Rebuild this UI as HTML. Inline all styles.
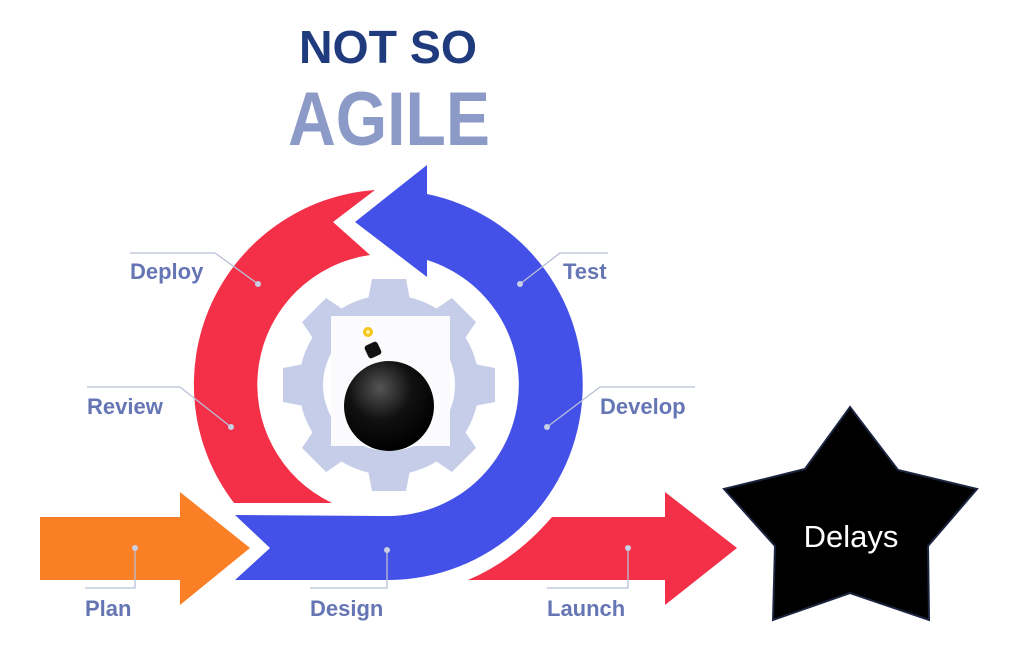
<!DOCTYPE html>
<html><head><meta charset="utf-8"><style>
html,body{margin:0;padding:0;background:#fff;}
svg{display:block;}
</style></head><body>
<svg width="1024" height="649" viewBox="0 0 1024 649" xmlns="http://www.w3.org/2000/svg" font-family="Liberation Sans, sans-serif">
<rect width="1024" height="649" fill="#fff"/>
<text x="388" y="63" text-anchor="middle" font-size="46" font-weight="bold" fill="#1f3a7d" textLength="178" lengthAdjust="spacingAndGlyphs">NOT SO</text>
<text x="389" y="145" text-anchor="middle" font-size="76" font-weight="bold" fill="#8c9ac8" textLength="202" lengthAdjust="spacingAndGlyphs">AGILE</text>

<!-- gear -->
<g fill="#c5cde8" transform="translate(389,385)">
<circle r="90"/>
<g id="t"><path d="M-22 -80 L-17 -106 L17 -106 L22 -80 Z"/></g>
<use href="#t" transform="rotate(45)"/><use href="#t" transform="rotate(90)"/><use href="#t" transform="rotate(135)"/>
<use href="#t" transform="rotate(180)"/><use href="#t" transform="rotate(225)"/><use href="#t" transform="rotate(270)"/><use href="#t" transform="rotate(315)"/>
</g>
<circle cx="389" cy="385" r="66" fill="#fff"/>
<rect x="331" y="316" width="119" height="130" fill="#fbfbfd"/>
<!-- bomb -->
<defs><radialGradient id="bg" cx="0.4" cy="0.3" r="0.7"><stop offset="0" stop-color="#555"/><stop offset="0.5" stop-color="#111"/><stop offset="1" stop-color="#000"/></radialGradient></defs>
<circle cx="389" cy="406" r="45" fill="url(#bg)"/>
<rect x="366" y="343" width="14" height="14" rx="3" fill="#111" transform="rotate(-25 373 350)"/>
<circle cx="368" cy="332" r="5" fill="#f5c518"/>
<circle cx="368" cy="332" r="2" fill="#fff3a0"/>

<!-- red arc -->
<path d="M234 503 A195 195 0 0 1 375 190 L333 222 L370 255 A131 131 0 0 0 332 503 Z" fill="#f33047"/>
<!-- blue arc -->
<path d="M235 515 L389 516 A131 131 0 0 0 427 260 L427 277 L355 222 L427 165 L427 194 A195 195 0 0 1 389 580 L235 580 L270 548 Z" fill="#4451e8"/>
<!-- orange plan arrow -->
<path d="M40 517 L180 517 L180 492 L250 548 L180 605 L180 580 L40 580 Z" fill="#fb7f25"/>
<!-- red launch arrow -->
<path d="M468 580 Q515 560 552 517 L665 517 L665 492 L737 548 L665 605 L665 580 Z" fill="#f33047"/>
<!-- star -->
<path d="M850 407 L898 470 L977 489 L928 546 L929 620 L850 593 L773 620 L775 546 L724 489 L805 469 Z" fill="#000" stroke="#1b2540" stroke-width="2"/>
<text x="851" y="547" text-anchor="middle" font-size="31" fill="#fff">Delays</text>

<!-- leaders -->
<g stroke="#b8bfd6" stroke-width="1.3" fill="none">
<path d="M130 253 L215 253 L258 284"/>
<path d="M608 253 L560 253 L520 284"/>
<path d="M87 387 L180 387 L231 427"/>
<path d="M695 387 L600 387 L547 427"/>
<path d="M135 548 L135 588 L85 588"/>
<path d="M387 550 L387 588 L310 588"/>
<path d="M628 548 L628 588 L547 588"/>
</g>
<g fill="#c8cee3">
<circle cx="258" cy="284" r="3"/><circle cx="520" cy="284" r="3"/><circle cx="231" cy="427" r="3"/><circle cx="547" cy="427" r="3"/>
<circle cx="135" cy="548" r="3"/><circle cx="387" cy="550" r="3"/><circle cx="628" cy="548" r="3"/>
</g>
<g font-size="22" font-weight="bold" fill="#6676b4">
<text x="130" y="279">Deploy</text>
<text x="563" y="279">Test</text>
<text x="87" y="414">Review</text>
<text x="600" y="414">Develop</text>
<text x="85" y="616">Plan</text>
<text x="310" y="616">Design</text>
<text x="547" y="616">Launch</text>
</g>
</svg>
</body></html>
